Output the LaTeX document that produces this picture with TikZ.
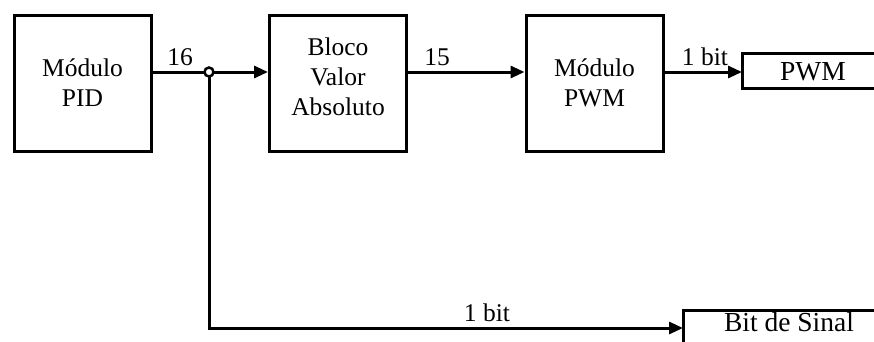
\documentclass[tikz,border=0pt]{standalone}
\usepackage{fontspec}
\setmainfont{Liberation Serif}
\usetikzlibrary{arrows.meta}
\begin{document}
\begin{tikzpicture}[x=1pt,y=-1pt,
  every node/.style={font=\fontsize{25.5}{30}\selectfont, inner sep=0pt},
  block/.style={draw, line width=3pt, minimum width=137pt, minimum height=136pt, align=center},
  sig/.style={line width=3pt, -{Triangle[length=14pt,width=12pt]}},
  port/.style={line width=3pt},
  porttext/.style={anchor=base, font=\fontsize{27.5}{32}\selectfont},
  junction/.style={circle, draw, fill=white, line width=2.5pt, minimum size=9pt},
  lbl/.style={anchor=base}]
\useasboundingbox (0,0) rectangle (874,341);
\clip (0,0) rectangle (874,341);

% processing blocks
\node[block] (pid)  at (82.5,83) {Módulo\\PID};
\node[block] (abs)  at (338,83)  {};
\node[align=center] (abstxt) at (338,77) {Bloco\\Valor\\Absoluto};
\node[block] (mpwm) at (594.5,83) {Módulo\\PWM};

% branch point and output port inputs
\coordinate (j) at (209,72);
\coordinate (pwmin) at (742,72);
\coordinate (sinalin) at (683,328);

% output ports (open towards the right edge)
\draw[port] (884,53) -| (742,88) -- (884,88);
\node[porttext] (pwmtxt) at (813,80) {PWM};
\draw[port] (884,310) -| (683,350);
\node[porttext] (sinaltxt) at (789,331) {Bit de Sinal};

% signal connections
\draw[sig] (pid.east |- j) -- (abs.west |- j);
\draw[sig] (abs.east |- j) -- (mpwm.west |- j);
\draw[sig] (mpwm.east |- j) -- (pwmin);
\draw[sig] (j) |- (sinalin);
\node[junction] (jdot) at (j) {};

% bus widths
\node[lbl] (w16) at (180,65) {16};
\node[lbl] (w15) at (437,65) {15};
\node[lbl] (w1a) at (705,65) {1 bit};
\node[lbl] (w1b) at (487,321) {1 bit};
\end{tikzpicture}
\end{document}
